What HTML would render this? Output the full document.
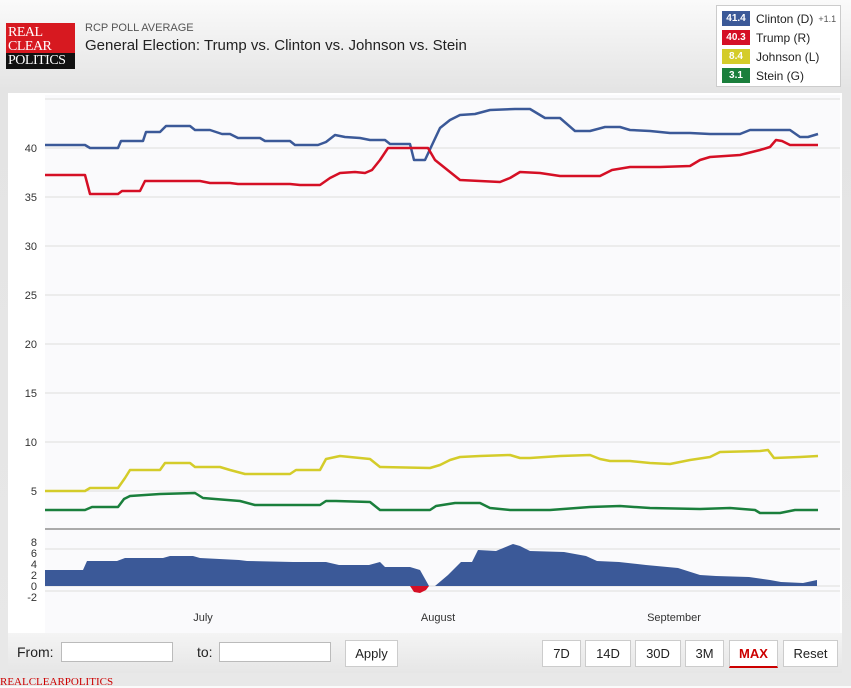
<!DOCTYPE html>
<html><head><style>
body{margin:0;width:851px;height:686px;overflow:hidden;background:linear-gradient(#fafafa,#e4e4e4 90px,#e8e8e8);font-family:"Liberation Sans",sans-serif;position:relative}
.abs{position:absolute}
.btn{position:absolute;top:640px;height:25px;border:1px solid #ccc;background:#fff;font-size:13px;line-height:25px;text-align:center;color:#222}
.leg div{height:19px;font-size:12px;color:#222;display:flex;align-items:center}
.leg span.b{display:inline-block;width:28px;height:15px;color:#fff;font-size:10px;font-weight:bold;text-align:center;line-height:15px;margin-right:6px}
</style></head><body>
<div class="abs" style="left:6px;top:23px;width:69px;height:46px;background:#d71920"></div>
<div class="abs" style="left:6px;top:53px;width:69px;height:16px;background:#111"></div>
<div class="abs" style="left:8px;top:26px;font-family:'Liberation Serif',serif;font-size:14px;line-height:14px;color:#fff;letter-spacing:-0.5px">REAL<br>CLEAR<br>POLITICS</div>
<div class="abs" style="left:85px;top:22px;font-size:11px;color:#555">RCP POLL AVERAGE</div>
<div class="abs" style="left:85px;top:37px;font-size:15px;color:#222">General Election: Trump vs. Clinton vs. Johnson vs. Stein</div>
<div class="abs leg" style="left:716px;top:5px;width:125px;height:82px;background:#fff;border:1px solid #ccc;padding:3px 0 0 5px;box-sizing:border-box">
<div><span class="b" style="background:#3b5998">41.4</span>Clinton (D) <span style="font-size:9px;color:#555;margin-left:5px">+1.1</span></div>
<div><span class="b" style="background:#d50f25">40.3</span>Trump (R)</div>
<div><span class="b" style="background:#d4cc2a">8.4</span>Johnson (L)</div>
<div><span class="b" style="background:#1a7f3c">3.1</span>Stein (G)</div>
</div>
<div class="abs" style="left:8px;top:93px;width:834px;height:540px;background:#fff"></div>
<svg class="abs" style="left:0;top:0" width="851" height="686">
<rect x="45" y="95" width="795" height="538" fill="#fafafc"/>
<g stroke="#ddd" stroke-width="1">
<line x1="45" x2="840" y1="99" y2="99"/><line x1="45" x2="840" y1="148" y2="148"/><line x1="45" x2="840" y1="197" y2="197"/><line x1="45" x2="840" y1="246" y2="246"/><line x1="45" x2="840" y1="295" y2="295"/><line x1="45" x2="840" y1="344" y2="344"/><line x1="45" x2="840" y1="393" y2="393"/><line x1="45" x2="840" y1="442" y2="442"/><line x1="45" x2="840" y1="491" y2="491"/>
<line x1="45" x2="840" y1="549" y2="549"/><line x1="45" x2="840" y1="586" y2="586"/><line x1="45" x2="840" y1="591" y2="591"/>
</g>
<line x1="45" x2="840" y1="529" y2="529" stroke="#aaa" stroke-width="2"/>
<g font-size="11" fill="#333" text-anchor="end">
<text x="37" y="152">40</text><text x="37" y="201">35</text><text x="37" y="250">30</text><text x="37" y="299">25</text><text x="37" y="348">20</text><text x="37" y="397">15</text><text x="37" y="446">10</text><text x="37" y="495">5</text>
<text x="37" y="546">8</text><text x="37" y="557">6</text><text x="37" y="568">4</text><text x="37" y="579">2</text><text x="37" y="590">0</text><text x="37" y="601">-2</text>
</g>
<g font-size="11" fill="#333" text-anchor="middle"><text x="203" y="621">July</text><text x="438" y="621">August</text><text x="674" y="621">September</text></g>
<path d="M45,586 L45,570 83,570 87,561 117,561 125,558 163,558 170,556 193,556 200,558 239,560 247,561 293,562 326,562 339,565 369,565 380,562 385,567 410,567 420,570 429,586 Z" fill="#3b5998"/>
<path d="M435,586 L448,575 461,562 472,562 478,550 496,551 513,544 520,546 530,551 564,552 586,556 597,561 619,562 646,565 678,568 700,575 716,576 749,577 770,580 781,582 803,583 817,580 817,586 Z" fill="#3b5998"/>
<path d="M410,586 L414,592 420,593 426,590 429,586 Z" fill="#d50f25"/>
<g fill="none" stroke-width="2.5" stroke-linejoin="round">
<polyline stroke="#3b5998" points="45,145 85,145 90,148 118,148 121,141 143,141 146,132 160,132 166,126 190,126 195,130 210,130 222,134 230,134 238,138 260,138 265,141 290,141 295,145 318,145 326,142 335,135 345,137 360,138 370,140 385,140 390,144 410,144 414,160 425,160 432,145 440,128 450,120 460,115 475,114 490,110 515,109 530,109 545,118 560,118 575,131 590,131 605,127 620,127 630,130 650,131 670,133 690,133 710,134 740,134 750,130 790,130 800,137 808,137 818,134"/>
<polyline stroke="#d50f25" points="45,175 85,175 90,194 118,194 122,191 140,191 145,181 200,181 210,183 230,183 238,184 290,184 300,185 320,185 330,178 340,173 355,172 365,173 372,170 380,160 388,148 428,148 435,160 445,168 460,180 480,181 500,182 510,178 520,172 540,173 560,176 600,176 612,170 630,167 660,167 690,166 700,160 710,157 740,155 760,150 770,147 776,140 782,141 790,145 818,145"/>
<polyline stroke="#d4cc2a" points="45,491 85,491 90,488 118,488 125,478 130,470 160,470 165,463 190,463 195,467 220,467 230,470 245,474 290,474 296,470 320,470 326,459 340,456 350,457 370,459 380,467 430,468 440,465 450,460 460,457 480,456 510,455 520,458 530,458 560,456 590,455 600,459 610,461 630,461 650,463 670,464 690,460 710,457 720,452 760,451 768,450 774,458 800,457 818,456"/>
<polyline stroke="#1a7f3c" points="45,510 85,510 92,507 118,507 124,499 130,496 160,494 195,493 203,498 215,499 240,501 255,505 290,505 300,505 320,505 326,501 336,501 370,502 380,510 430,510 436,506 455,503 480,503 490,508 510,510 550,510 590,507 620,506 650,508 700,509 730,508 755,510 760,513 780,513 795,510 818,510"/>
</g>
</svg>
<div class="abs" style="left:8px;top:633px;width:834px;height:40px;background:linear-gradient(#f4f4f4,#e6e6e6)"></div>
<div class="abs" style="left:17px;top:644px;font-size:14px;color:#222">From:</div>
<div class="abs" style="left:61px;top:642px;width:110px;height:18px;border:1px solid #bbb;background:#fff"></div>
<div class="abs" style="left:197px;top:644px;font-size:14px;color:#222">to:</div>
<div class="abs" style="left:219px;top:642px;width:110px;height:18px;border:1px solid #bbb;background:#fff"></div>
<div class="btn" style="left:345px;width:51px">Apply</div>
<div class="btn" style="left:542px;width:37px">7D</div>
<div class="btn" style="left:585px;width:44px">14D</div>
<div class="btn" style="left:635px;width:44px">30D</div>
<div class="btn" style="left:685px;width:37px">3M</div>
<div class="btn" style="left:729px;width:47px;color:#c00;font-weight:bold;border-bottom:2px solid #c00">MAX</div>
<div class="btn" style="left:783px;width:53px">Reset</div>
<div class="abs" style="left:0;top:676px;font-family:'Liberation Serif',serif;font-size:11px;color:#c00">REALCLEARPOLITICS</div>
</body></html>
